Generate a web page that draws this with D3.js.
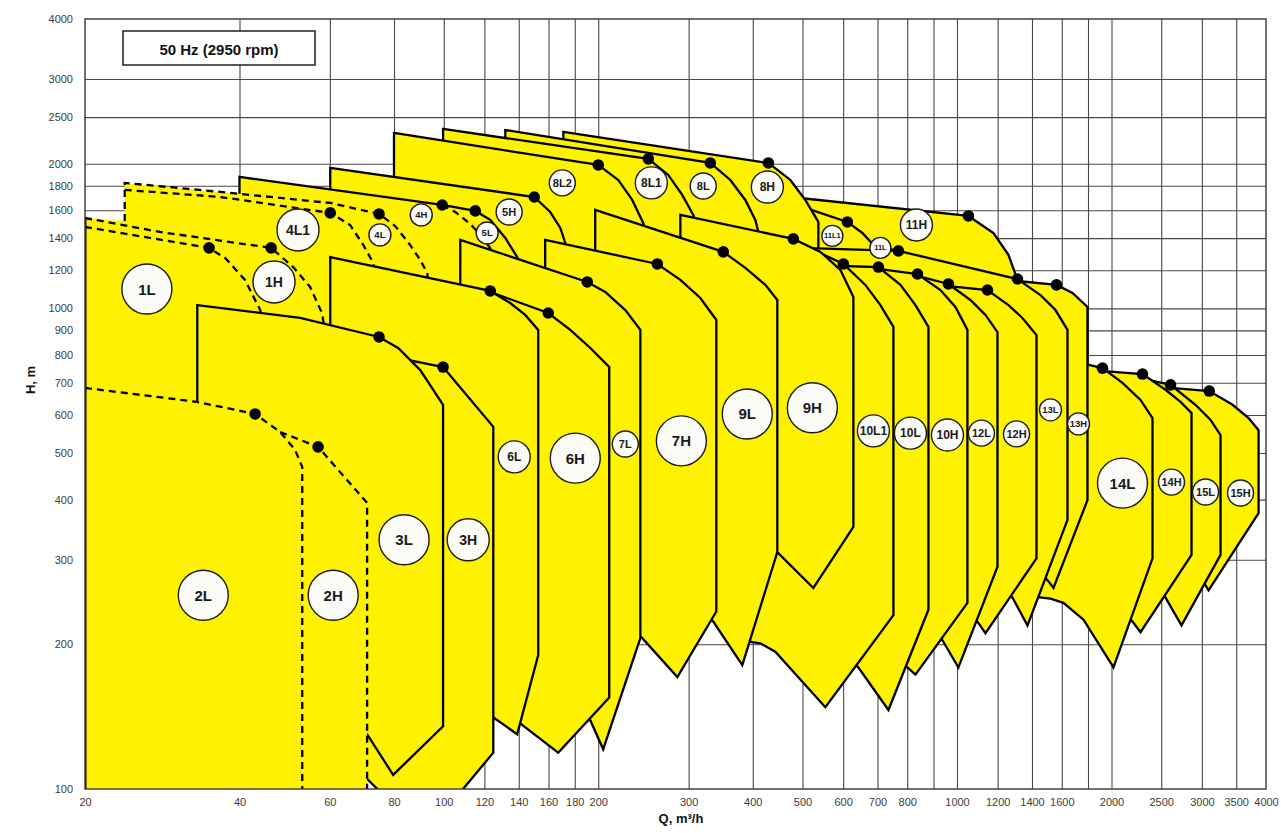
<!DOCTYPE html>
<html>
<head>
<meta charset="utf-8">
<script src="https://cdn.jsdelivr.net/npm/d3@7"></script>
<style>
  body { margin: 0; background: #fff; }
  svg { display: block; }
  text { font-family: Arial, "Liberation Sans", sans-serif; }
</style>
</head>
<body>
<svg id="chart" width="1281" height="833"></svg>
<script>
// axis ticks (Q in m3/h, H in m)
const xTicks = [20, 40, 60, 80, 100, 120, 140, 160, 180, 200, 300, 400, 500, 600, 700, 800, 1000, 1200, 1400, 1600, 2000, 2500, 3000, 3500, 4000];
const xGrid = [40, 60, 80, 100, 120, 140, 160, 180, 200, 300, 400, 500, 600, 700, 800, 900, 1000, 1200, 1400, 1600, 1800, 2000, 2500, 3000, 3500];
const yTicks = [100, 200, 300, 400, 500, 600, 700, 800, 900, 1000, 1200, 1400, 1600, 1800, 2000, 2500, 3000, 4000];
const yGrid = [200, 300, 400, 500, 600, 700, 800, 900, 1000, 1200, 1400, 1600, 1800, 2000, 2500, 3000];

// upper pump ranges, back to front
const upperShapes = [
  ['11H', [[473.5,1705],[1052.6,1557],[1177.8,1435],[1259.6,1292],[1311.8,1146],[1341,1041],[1341,645],[473.5,645]]],
  ['11L', [[541.9,1422],[769,1317],[811.4,1249],[841.1,1173],[856.3,1092],[856.3,946],[541.9,946]]],
  ['11L1', [[506.3,1618],[611.6,1513],[654.1,1435],[693.4,1342],[725.3,1231],[725.3,1041],[506.3,1041]]],
  ['8H', [[171,2328],[429,2007],[473.5,1850],[506.3,1681],[536.9,1513],[536.9,1041],[171,1041]]],
  ['8L', [[131.8,2350],[330.6,2007],[361.7,1850],[386.9,1681],[404.6,1528],[413.9,1388],[413.9,1041],[131.8,1041]]],
  ['8L1', [[99.7,2362],[250.4,2046],[273.8,1895],[291.5,1722],[306.3,1565],[316.2,1401],[316.2,1041],[99.7,1041]]],
  ['8L2', [[80,2317],[200,1988],[218.8,1850],[232.9,1681],[244.7,1506],[252.6,1323],[252.6,1041],[80,1041]]],
  ['5H', [[60.1,1960],[150.1,1705],[161.2,1587],[168.7,1470],[172.5,1368],[176.4,1249],[176.4,946],[60.1,946]]],
  ['5L', [[40,1877],[99.3,1641],[115.2,1595],[123.2,1528],[131.8,1401],[139,1279],[144.1,1146],[144.1,902],[40,902]]]
];

// dashed family (1L/1H, 4L1/4L, 4H) area and curves
const dashedArea = [[20,1542],[23.9,1520],[23.9,1824],[36.7,1747],[60.1,1657],[74.8,1572],[80.4,1484],[86,1355],[90,1261],[92.8,1185],[94.9,1041],[60.1,902],[33.1,586],[20,586]];
const dashedCurves = [
  ['4L', [[23.9,1520],[23.9,1824],[36.7,1747],[60.1,1657],[74.8,1572],[80.4,1484],[86,1355],[90,1261],[92.8,1185],[94.9,1041]]],
  ['4L1', [[23.9,1764],[36.7,1705],[60.1,1580],[65.7,1491],[69.7,1355],[72.9,1243],[74.5,1092]]],
  ['1H', [[20,1542],[28,1442],[46.1,1336],[50.9,1219],[54.9,1108],[57.9,978],[58.9,880]]],
  ['1L', [[20,1477],[34.9,1336],[37.5,1273],[41,1146],[43.9,992],[45.1,860]]],
  ['4H', [[99.3,1641],[105.3,1587],[112.6,1499],[119.4,1401],[126,1285],[131.8,1173]]]
];

// lower pump ranges, back to front
const lowerShapes = [
  ['15H', [[2607,683],[3101,673],[3443,630],[3700,591],[3869,558],[3869,375],[3091,259],[3009,272],[2788,300],[2607,399]]],
  ['15L', [[2278,716],[2607,693],[2915,630],[3119,586],[3262,545],[3262,307],[2738,219],[2549,250],[2383,272],[2278,399]]],
  ['14H', [[1903,741],[2298,730],[2549,677],[2726,639],[2864,606],[2864,307],[2278,212],[2198,223],[1991,247],[1903,399]]],
  ['14L', [[1780,766],[1921,751],[2101,700],[2278,645],[2404,591],[2404,302],[2018,179],[1764,225],[1612,244],[1521,249],[1422,251],[1360,259],[1740,399]]],
  ['13H', [[1015.5,1208],[1311.8,1140],[1562.6,1119],[1679,1077],[1795.7,1007],[1795.7,399],[1541.7,262],[1501,272],[1271,330],[1015.5,399]]],
  ['13L', [[495.2,1336],[769,1317],[1311.8,1151],[1454,1066],[1555.6,992],[1641.7,902],[1641.7,363],[1372,219],[1283,250],[1110.9,300],[775.8,440],[495.2,508]]],
  ['12H', [[848.7,1151],[962.4,1113],[1146.5,1092],[1259.6,1016],[1341,955],[1428.5,880],[1428.5,302],[1136.3,211],[1096,223],[971,259],[848.7,300]]],
  ['12L', [[709.2,1190],[837.4,1168],[962.4,1124],[1062,1041],[1136.3,969],[1199.2,893],[1199.2,290],[1006.4,179],[936.7,204],[811.4,247],[709.2,300]]],
  ['10H', [[592.7,1208],[702.9,1208],[837.4,1179],[928.3,1092],[993,1007],[1047.9,902],[1047.9,244],[829.9,173],[800.6,179],[678,214],[592.7,247]]],
  ['10L', [[495.2,1342],[600.7,1225],[702.9,1219],[775.8,1119],[829.9,1016],[879.8,915],[879.8,236],[735.2,146],[642.7,179],[566.6,204],[495.2,247]]],
  ['10L1', [[316.2,1513],[479.9,1385],[600.7,1237],[662.9,1119],[709.2,1016],[751.9,915],[751.9,230],[554,148],[442.6,193],[413.9,201],[386.9,203],[345.8,247],[316.2,300]]],
  ['9H', [[289.1,1565],[479.9,1395],[541.9,1311],[592.7,1202],[628.3,1056],[628.3,351],[525,262],[446.6,311],[378.3,363],[289.1,399]]],
  ['9L', [[197.3,1603],[350.5,1311],[386.9,1214],[423.2,1119],[446.6,1041],[446.6,311],[381.7,181],[335.1,223],[264.2,272],[197.3,330]]],
  ['7H', [[157.6,1388],[260.7,1237],[289.1,1146],[316.2,1051],[339.7,946],[339.7,234],[285.2,171],[243.7,206],[201.8,247],[157.6,300]]],
  ['7L', [[107.7,1388],[190.4,1135],[206.4,1082],[225.8,992],[241.6,902],[241.6,206],[204.5,121],[193,139],[154.2,169],[107.7,247]]],
  ['6H', [[90,1151],[123.2,1082],[159.8,978],[176.4,902],[193,827],[210.1,755],[210.1,155],[167.1,119],[140.9,137],[112.6,169],[90,204]]],
  ['6L', [[60.1,1279],[123.2,1087],[134.7,1026],[144.1,969],[152.8,902],[152.8,190],[139,130],[126,140],[99.7,169],[60.1,247]]],
  ['3H', [[43.9,902],[99.7,755],[124.9,567],[124.9,119],[91.6,80],[70.9,105],[43.9,153]]],
  ['3L', [[33.1,1016],[52.5,955],[74.8,872],[81.5,827],[90,744],[99.7,630],[99.7,135],[79.7,107],[70.9,130],[33.1,247]]]
];

// 2L / 2H family, lies in front
const frontArea = [[20,683],[33,639],[42.9,603],[48,553],[56.9,515],[70.9,394],[70.9,100],[20,100]];
const frontCurves = [
  ['2L', [[20,683],[33,639],[42.9,603],[48,553],[51.3,508],[53,468],[53,100]]],
  ['2H', [[48,553],[56.9,515],[70.9,394],[70.9,100]]]
];
const leftEdge = [[20,1542],[20,100]];

// best efficiency points
const dots = [
  [34.9,1336],[46.1,1336],[42.9,603],[56.9,515],[60.1,1580],[74.8,1572],[99.3,1641],[115.2,1595],[150.1,1705],
  [200,1988],[250.4,2046],[330.6,2007],[429,2007],[611.6,1513],[769,1317],[1052.6,1557],
  [74.8,872],[99.7,755],[123.2,1087],[159.8,978],[190.4,1135],[260.7,1237],[350.5,1311],[479.9,1395],
  [600.7,1237],[702.9,1219],[837.4,1179],[962.4,1124],[1146.5,1092],[1311.8,1151],[1562.6,1119],
  [1920.7,751],[2298,730],[2607,693],[3101,673]
];

// pump size labels: name, Q, H, size class
const labels = [
  ['1L',26.4,1097,'a'],['1H',46.7,1135,'b'],['2L',34,253,'a'],['2H',60.9,253,'a'],
  ['4L1',52,1456,'b'],['4L',75.1,1422,'e'],['4H',90.4,1565,'e'],['5L',121.5,1435,'e'],['5H',134.1,1587,'d'],
  ['8L2',170.2,1824,'d'],['8L1',253.8,1824,'c'],['8L',320.3,1797,'d'],['8H',427.1,1788,'c'],
  ['11L1',571.7,1415,'f'],['11H',833.6,1491,'c'],['11L',709.2,1336,'f'],
  ['3L',83.7,330,'a'],['3H',111.6,330,'b'],['6L',137.2,491,'c'],['6H',180.4,488,'a'],
  ['7L',225.8,522,'d'],['7H',290.4,530,'a'],['9L',390.3,603,'a'],['9H',522.6,621,'a'],
  ['10L1',687.3,556,'c'],['10L',811.4,550,'c'],['10H',958.1,545,'c'],['12L',1115.9,550,'d'],['12H',1306,548,'d'],
  ['13L',1521,615,'e'],['13H',1725,575,'e'],
  ['14L',2101,433,'a'],['14H',2618,435,'d'],['15L',3050,415,'d'],['15H',3568,413,'d']
];

const labelStyle = {
  a: { r: 25, fs: 15 }, b: { r: 21, fs: 14 }, c: { r: 16, fs: 12 },
  d: { r: 13, fs: 11 }, e: { r: 11, fs: 9.5 }, f: { r: 10.5, fs: 7.5 }
};

const YELLOW = '#fff200';
const svg = d3.select('#chart');
const plotLeft = 85, plotRight = 1266, plotTop = 19, plotBottom = 789;

const x = d3.scaleLog().domain([20, 4000]).range([plotLeft, plotRight]);
const y = d3.scaleLog().domain([100, 4000]).range([plotBottom, plotTop]);
const line = d3.line().x((d) => x(d[0])).y((d) => y(d[1]));

// grid
svg.append('rect').attr('x', plotLeft).attr('y', plotTop)
  .attr('width', plotRight - plotLeft).attr('height', plotBottom - plotTop).attr('fill', '#fff');

svg.append('g')
  .attr('transform', `translate(0,${plotBottom})`)
  .call(d3.axisBottom(x).tickValues(xGrid).tickSize(-(plotBottom - plotTop)).tickFormat(''))
  .call((g) => g.select('.domain').remove())
  .call((g) => g.selectAll('line').attr('stroke', '#4d4646').attr('stroke-width', 1.1));

svg.append('g')
  .attr('transform', `translate(${plotLeft},0)`)
  .call(d3.axisLeft(y).tickValues(yGrid).tickSize(-(plotRight - plotLeft)).tickFormat(''))
  .call((g) => g.select('.domain').remove())
  .call((g) => g.selectAll('line').attr('stroke', '#4d4646').attr('stroke-width', 1.1));

// clip for pump ranges
svg.append('clipPath').attr('id', 'plot-clip')
  .append('rect').attr('x', plotLeft).attr('y', plotTop)
  .attr('width', plotRight - plotLeft).attr('height', plotBottom - plotTop);

const plot = svg.append('g').attr('clip-path', 'url(#plot-clip)');

function drawShapes(list) {
  list.forEach(([name, pts]) => {
    plot.append('path')
      .attr('class', 'pump pump-' + name)
      .attr('d', line(pts) + 'Z')
      .attr('fill', YELLOW)
      .attr('stroke', '#000')
      .attr('stroke-width', 2.3)
      .attr('stroke-linejoin', 'miter')
      .attr('stroke-miterlimit', 6);
  });
}

function drawDashed(list) {
  list.forEach(([name, pts]) => {
    plot.append('path')
      .attr('class', 'dashed dashed-' + name)
      .attr('d', line(pts))
      .attr('fill', 'none')
      .attr('stroke', '#000')
      .attr('stroke-width', 2.3)
      .attr('stroke-dasharray', '7,5');
  });
}

drawShapes(upperShapes);

plot.append('path').attr('d', line(dashedArea) + 'Z').attr('fill', YELLOW);
drawDashed(dashedCurves);

drawShapes(lowerShapes);

plot.append('path').attr('d', line(frontArea) + 'Z').attr('fill', YELLOW);
drawDashed(frontCurves);
plot.append('path').attr('d', line(leftEdge)).attr('stroke', '#000').attr('stroke-width', 3).attr('fill', 'none');

// dots
plot.append('g').selectAll('circle').data(dots).enter().append('circle')
  .attr('cx', (d) => x(d[0]))
  .attr('cy', (d) => y(d[1]))
  .attr('r', 5.8)
  .attr('fill', '#000');

// labels
const lab = svg.append('g').selectAll('g').data(labels).enter().append('g')
  .attr('transform', (d) => `translate(${x(d[1])},${y(d[2])})`);

lab.append('circle')
  .attr('r', (d) => labelStyle[d[3]].r)
  .attr('fill', '#fbfbf8')
  .attr('stroke', '#1a1a1a')
  .attr('stroke-width', 1.4);

lab.append('text')
  .attr('text-anchor', 'middle')
  .attr('dominant-baseline', 'central')
  .attr('font-weight', 'bold')
  .attr('font-size', (d) => labelStyle[d[3]].fs + 'px')
  .attr('fill', '#1a1a1a')
  .text((d) => d[0]);

// frame
svg.append('rect').attr('x', plotLeft).attr('y', plotTop)
  .attr('width', plotRight - plotLeft).attr('height', plotBottom - plotTop)
  .attr('fill', 'none').attr('stroke', '#3a3535').attr('stroke-width', 1.4);

// tick labels
svg.append('g')
  .attr('transform', `translate(0,${plotBottom})`)
  .call(d3.axisBottom(x).tickValues(xTicks).tickSize(0).tickPadding(9).tickFormat(d3.format('d')))
  .call((g) => g.select('.domain').remove())
  .call((g) => g.selectAll('text').attr('font-size', '11px').attr('fill', '#3c3c3c')
    .attr('font-family', 'Arial, "Liberation Sans", sans-serif'));

svg.append('g')
  .attr('transform', `translate(${plotLeft},0)`)
  .call(d3.axisLeft(y).tickValues(yTicks).tickSize(0).tickPadding(12).tickFormat(d3.format('d')))
  .call((g) => g.select('.domain').remove())
  .call((g) => g.selectAll('text').attr('font-size', '11px').attr('fill', '#3c3c3c')
    .attr('font-family', 'Arial, "Liberation Sans", sans-serif'));

// title box
svg.append('rect').attr('x', 123).attr('y', 31).attr('width', 192).attr('height', 34)
  .attr('fill', '#fff').attr('stroke', '#222').attr('stroke-width', 1.5);
svg.append('text').attr('x', 219).attr('y', 49).attr('text-anchor', 'middle').attr('dominant-baseline', 'central')
  .attr('font-weight', 'bold').attr('font-size', '15px').attr('fill', '#111').text('50 Hz (2950 rpm)');

// axis titles
svg.append('text').attr('transform', 'translate(30,380) rotate(-90)').attr('text-anchor', 'middle')
  .attr('dominant-baseline', 'central').attr('font-weight', 'bold').attr('font-size', '13px').attr('fill', '#111')
  .text('H, m');
svg.append('text').attr('x', 681).attr('y', 823).attr('text-anchor', 'middle')
  .attr('font-weight', 'bold').attr('font-size', '13px').attr('fill', '#111')
  .text('Q, m³/h');
</script>
</body>
</html>
